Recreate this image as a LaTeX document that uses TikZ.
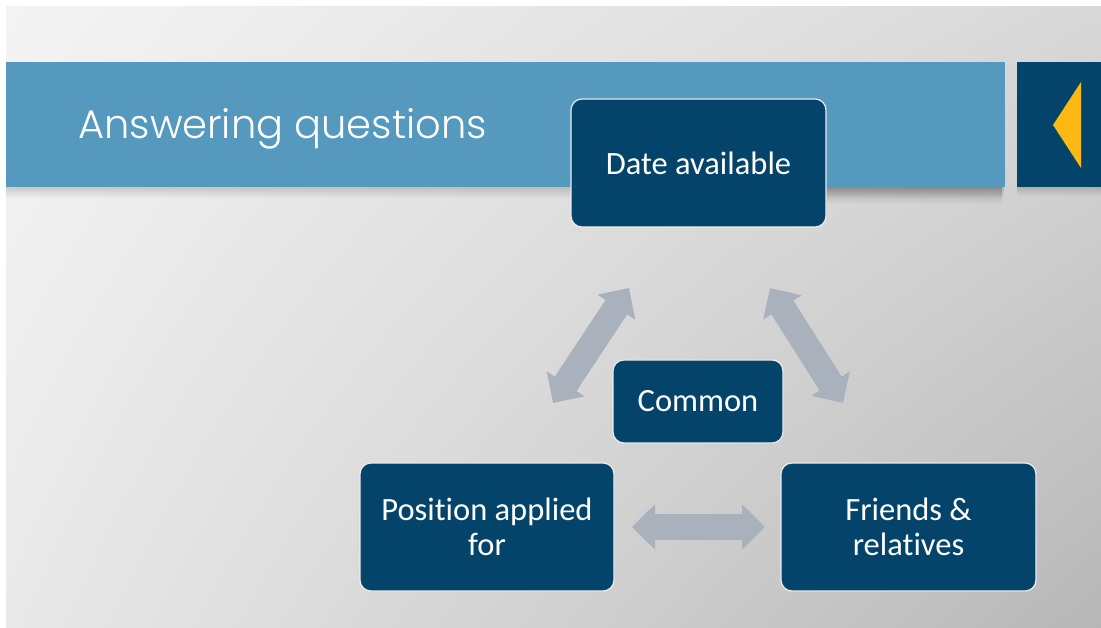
\documentclass[tikz,border=0pt]{standalone}
\usepackage{fontspec}
\setmainfont{Carlito}[Ligatures=NoCommon]
\newfontfamily\titlefont{Poppins Light}
\usetikzlibrary{arrows.meta,fadings,shadings}

\definecolor{navy}{HTML}{05446A}
\definecolor{barblue}{HTML}{5599BF}
\definecolor{tipyellow}{HTML}{FDB913}
\definecolor{arrowgray}{HTML}{A9B1BD}
\definecolor{bgUL}{HTML}{F4F4F4}
\definecolor{bgUR}{HTML}{D8D8D8}
\definecolor{bgLL}{HTML}{E9E9E9}
\definecolor{bgLR}{HTML}{B7B7B7}

\tikzset{
  topicbox/.style={rounded corners=11pt, fill=navy, draw=white!85!gray,
    line width=1.2pt, text=white, align=center, inner sep=0pt,
    font=\fontsize{32.5}{35}\selectfont},
  blockarrow/.style={arrowgray, line width=26pt,
    {Triangle[width=44pt,length=23pt]}-{Triangle[width=44pt,length=23pt]}},
}

\begin{document}
\begin{tikzpicture}[x=1pt,y=-1pt]
\useasboundingbox (0,0) rectangle (1101,628);
\fill[white] (0,0) rectangle (1101,628);

% slide background
\shade[upper left=bgUL, upper right=bgUR, lower left=bgLL, lower right=bgLR]
  (6,7) rectangle (1101,628);

% shadows under the title band
\fill[black, opacity=0.16, path fading=south] (6,187) rectangle (1005,198);
\fill[black, opacity=0.22, path fading=south] (820,187) rectangle (1002,204);
\fill[black, opacity=0.16, path fading=south] (1017,187) rectangle (1101,196);

% title band
\fill[barblue] (6,62) rectangle (1005,187);
\node[anchor=base west, text=white, inner sep=0pt,
  font=\titlefont\fontsize{40}{48}\selectfont] (title) at (78,139) {Answering questions};

% navigation tab
\fill[navy] (1017,62) rectangle (1101,187);
\fill[tipyellow] (1053,125) -- (1081,82) -- (1081,168) -- cycle;

% topic boxes
\node[topicbox, minimum width=255pt, minimum height=128pt] (date) at (698.5,163) {Date available};
\node[topicbox, minimum width=170pt, minimum height=83pt] (common) at (698,401.5) {Common};
\node[topicbox, minimum width=254pt, minimum height=128pt] (position) at (487,527) {Position applied\\for};
\node[topicbox, minimum width=255pt, minimum height=128pt] (friends) at (908.5,527) {Friends \&\\relatives};

% two-way arrows
\coordinate (la) at (553,403);
\coordinate (lb) at (629,288);
\coordinate (ra) at (770,288);
\coordinate (rb) at (843,403);
\coordinate (ha) at (632,527);
\coordinate (hb) at (765,527);
\draw[blockarrow] (la) -- (lb);
\draw[blockarrow] (ra) -- (rb);
\draw[blockarrow] (ha) -- (hb);
\end{tikzpicture}
\end{document}
